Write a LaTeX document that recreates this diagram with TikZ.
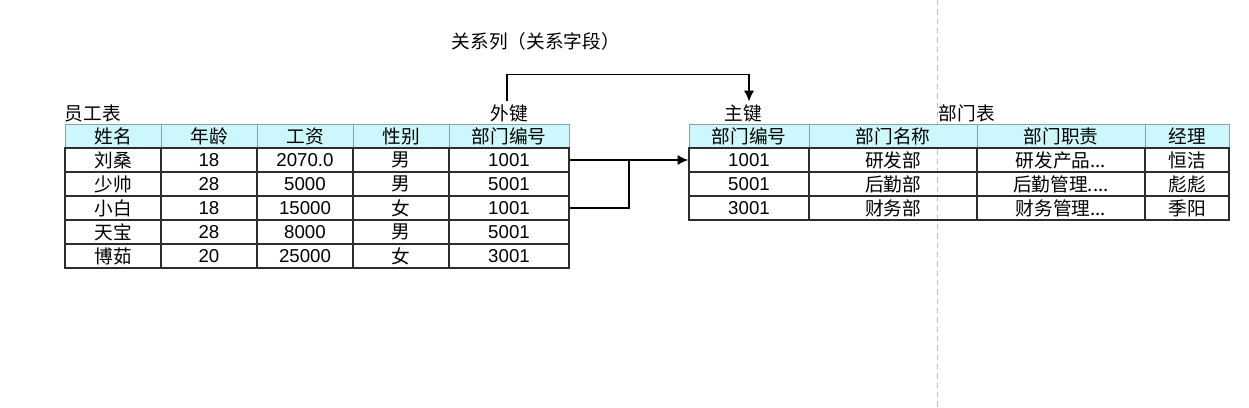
\documentclass[tikz,border=0pt]{standalone}
\usepackage{fontspec}
\setmainfont{Liberation Sans}
\newfontfamily\cjk{Noto Sans CJK SC}
\usetikzlibrary{arrows.meta}

\definecolor{hdrfill}{RGB}{204,247,252}
\definecolor{hdrline}{RGB}{140,155,185}
\definecolor{rowline}{RGB}{45,45,45}

\begin{document}
\fontsize{14}{16}\selectfont
\begin{tikzpicture}[
  x=0.75pt, y=-0.75pt,
  hd/.style={draw=hdrline, fill=hdrfill, font=\cjk, minimum height=18pt, inner sep=0pt},
  td/.style={draw=rowline, line width=1.1pt, minimum height=18pt, inner sep=0pt},
  tdc/.style={td, font=\cjk},
  wa/.style={minimum width=72pt},
  wb/.style={minimum width=90pt},
  wc/.style={minimum width=126pt},
  wd/.style={minimum width=63pt},
  lbl/.style={font=\cjk, inner sep=2pt},
  link/.style={draw=black, line width=0.9pt},
  pagebrk/.style={draw=black!25, dash pattern=on 4pt off 3pt}
]
  \fill[white] (0,0) rectangle (1249,407);
  \useasboundingbox (0,0) rectangle (1249,407);

  % page break
  \draw[pagebrk] (937,0) -- (937,407);

  % labels
  \node[lbl, anchor=west] (rel) at (449,41) {关系列（关系字段）};
  \node[lbl, anchor=west] (emp) at (62,113) {员工表};
  \node[lbl] (fk) at (509,113) {外键};
  \node[lbl] (pk) at (743,113) {主键};
  \node[lbl, anchor=west] (dept) at (936,113) {部门表};

  % employee table
  \node[hd, wa] (eh1) at (113,136) {姓名};
  \node[hd, wa] (eh2) at (209,136) {年龄};
  \node[hd, wa] (eh3) at (305,136) {工资};
  \node[hd, wa] (eh4) at (401,136) {性别};
  \node[hd, wb] (eh5) at (509,136) {部门编号};

  \node[tdc, wa] (e11) at (113,160) {刘桑};
  \node[td, wa] (e12) at (209,160) {18};
  \node[td, wa] (e13) at (305,160) {2070.0};
  \node[tdc, wa] (e14) at (401,160) {男};
  \node[td, wb] (e15) at (509,160) {1001};

  \node[tdc, wa] (e21) at (113,184) {少帅};
  \node[td, wa] (e22) at (209,184) {28};
  \node[td, wa] (e23) at (305,184) {5000};
  \node[tdc, wa] (e24) at (401,184) {男};
  \node[td, wb] (e25) at (509,184) {5001};

  \node[tdc, wa] (e31) at (113,208) {小白};
  \node[td, wa] (e32) at (209,208) {18};
  \node[td, wa] (e33) at (305,208) {15000};
  \node[tdc, wa] (e34) at (401,208) {女};
  \node[td, wb] (e35) at (509,208) {1001};

  \node[tdc, wa] (e41) at (113,232) {天宝};
  \node[td, wa] (e42) at (209,232) {28};
  \node[td, wa] (e43) at (305,232) {8000};
  \node[tdc, wa] (e44) at (401,232) {男};
  \node[td, wb] (e45) at (509,232) {5001};

  \node[tdc, wa] (e51) at (113,256) {博茹};
  \node[td, wa] (e52) at (209,256) {20};
  \node[td, wa] (e53) at (305,256) {25000};
  \node[tdc, wa] (e54) at (401,256) {女};
  \node[td, wb] (e55) at (509,256) {3001};

  % department table
  \node[hd, wb] (dh1) at (749,136) {部门编号};
  \node[hd, wc] (dh2) at (893,136) {部门名称};
  \node[hd, wc] (dh3) at (1061,136) {部门职责};
  \node[hd, wd] (dh4) at (1187,136) {经理};

  \node[td, wb] (d11) at (749,160) {1001};
  \node[tdc, wc] (d12) at (893,160) {研发部};
  \node[tdc, wc] (d13) at (1061,160) {研发产品...};
  \node[tdc, wd] (d14) at (1187,160) {恒洁};

  \node[td, wb] (d21) at (749,184) {5001};
  \node[tdc, wc] (d22) at (893,184) {后勤部};
  \node[tdc, wc] (d23) at (1061,184) {后勤管理....};
  \node[tdc, wd] (d24) at (1187,184) {彪彪};

  \node[td, wb] (d31) at (749,208) {3001};
  \node[tdc, wc] (d32) at (893,208) {财务部};
  \node[tdc, wc] (d33) at (1061,208) {财务管理...};
  \node[tdc, wd] (d34) at (1187,208) {季阳};

  % relation arrows
  \draw[link, -{Latex[length=8pt, width=7.5pt]}] ([xshift=-1.5pt]fk.north) -- ++(0,-27) -| ([xshift=4.5pt]pk.north);
  \draw[link, -{Latex[length=8pt, width=7.5pt]}] (e15.east) -- (d11.west);
  \draw[link] (e35.east) -| (629,160);
\end{tikzpicture}
\end{document}
